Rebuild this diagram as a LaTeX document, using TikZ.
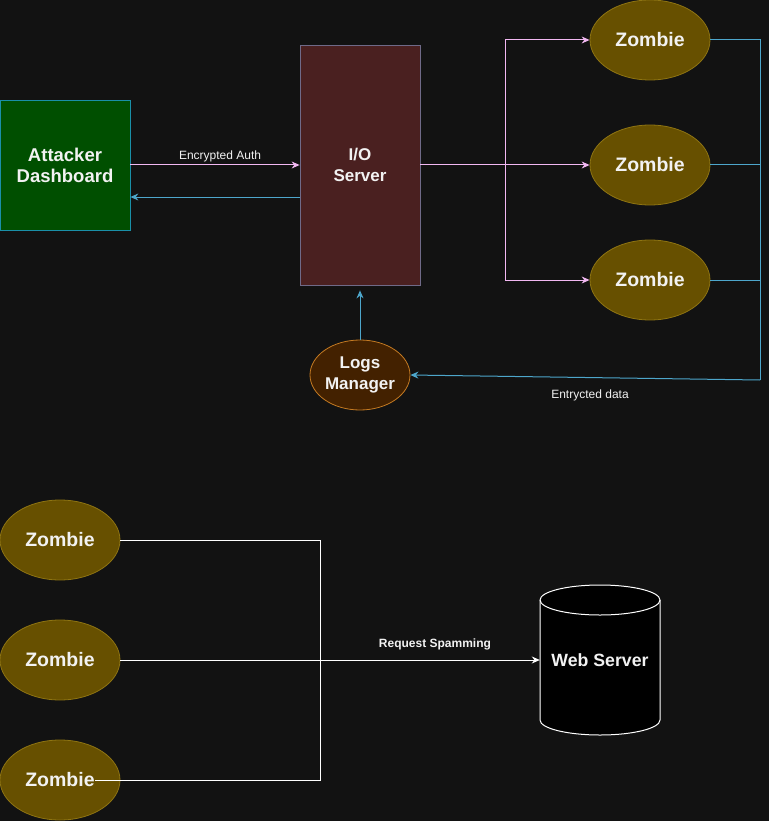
\documentclass[tikz,border=0pt]{standalone}
\usepackage{fontspec}
\setmainfont{Liberation Sans}
\usetikzlibrary{arrows.meta,shapes.geometric}
\definecolor{bg}{HTML}{121212}
\definecolor{adfill}{HTML}{004F00}
\definecolor{adline}{HTML}{1A8FA8}
\definecolor{iofill}{HTML}{4A2020}
\definecolor{ioline}{HTML}{6F6A88}
\definecolor{zfill}{HTML}{675000}
\definecolor{zline}{HTML}{8E7412}
\definecolor{lmfill}{HTML}{432100}
\definecolor{lmline}{HTML}{C47A22}
\definecolor{pinkc}{HTML}{F2B8F2}
\definecolor{bluec}{HTML}{4DA6CB}
\definecolor{txt}{HTML}{F2F2F2}
\tikzset{
  zombie/.style={ellipse, draw=zline, fill=zfill, line width=0.8pt, minimum width=120pt, minimum height=80pt, inner sep=0pt, text=txt, font=\fontsize{19.5}{23}\selectfont\bfseries},
  pinkarrow/.style={draw=pinkc, line width=1pt, -{Stealth[length=8pt,width=7pt]}},
  bluearrow/.style={draw=bluec, line width=1pt, -{Stealth[length=8pt,width=7pt]}},
  blueline/.style={draw=bluec, line width=1pt},
  whiteline/.style={draw=white, line width=1pt},
  lbl/.style={text=txt, font=\fontsize{12}{14}\selectfont, inner sep=0pt},
}
\begin{document}
\begin{tikzpicture}[x=1pt,y=-1pt]
\fill[bg] (0,0) rectangle (769,821);
\useasboundingbox (0,0) rectangle (769,821);

% nodes
\node[draw=adline, fill=adfill, line width=0.8pt, minimum width=130pt, minimum height=130pt, inner sep=0pt, text=txt, align=center, font=\fontsize{18.5}{22.5}\selectfont\bfseries] (ad) at (65,165) {\raisebox{-1.5pt}{Attacker}\\Dashboard};
\node[draw=ioline, fill=iofill, line width=0.8pt, minimum width=120pt, minimum height=240pt, inner sep=0pt, text=txt, align=center, font=\fontsize{17}{20.5}\selectfont\bfseries] (io) at (360,165) {I/O\\Server};
\node[zombie] (z1) at (650,40) {\raisebox{-1.5pt}{Zombie}};
\node[zombie] (z2) at (650,165) {\raisebox{-1.5pt}{Zombie}};
\node[zombie] (z3) at (650,280) {\raisebox{-1.5pt}{Zombie}};
\node[ellipse, draw=lmline, fill=lmfill, line width=0.8pt, minimum width=100pt, minimum height=70pt, inner sep=0pt, text=txt, align=center, font=\fontsize{17}{21}\selectfont\bfseries] (lm) at (360,375) {Logs\\Manager};

\node[zombie] (b1) at (60,540) {\raisebox{-1.5pt}{Zombie}};
\node[zombie] (b2) at (60,660) {\raisebox{-1.5pt}{Zombie}};
\node[zombie] (b3) at (60,780) {\raisebox{-1.5pt}{Zombie}};

% cylinder
\filldraw[draw=white, fill=black, line width=1pt] (540,600) -- (540,720) arc[start angle=180, end angle=360, x radius=60, y radius=-15] -- (660,600) arc[start angle=0, end angle=180, x radius=60, y radius=-15] -- cycle;
\draw[white, line width=1pt] (540,600) arc[start angle=180, end angle=360, x radius=60, y radius=-15];
\node[inner sep=0pt, minimum width=120pt, minimum height=120pt, text=txt, font=\fontsize{17.7}{21}\selectfont\bfseries] (ws) at (600,660) {Web Server};

% coordinates
\coordinate (br) at (505,165);
\coordinate (rc) at (760,380);
\coordinate (bj) at (320,780);

% connectors
\draw[pinkarrow] (ad.east) -- node[lbl, above=3pt, pos=0.53] (lea) {Encrypted Auth} (io.west);
\draw[bluearrow] ([yshift=-32pt]io.west) -- ([yshift=-32pt]ad.east);
\draw[pinkarrow] (io.east) -- (z2.west);
\draw[pinkarrow] (br) |- (z1.west);
\draw[pinkarrow] (br) |- (z3.west);

\draw[blueline] (z1.east) -- (z1.east -| rc) -- (rc);
\draw[blueline] (z2.east) -- (z2.east -| rc);
\draw[blueline] (z3.east) -- (z3.east -| rc);
\draw[bluearrow] (rc) -- (lm.east);
\node[lbl] (led) at (590,395) {Entrycted data};
\draw[bluearrow] (lm.north) -- ([yshift=-5pt]io.south);

\draw[whiteline] (b1.east) -| (bj) -- ([xshift=35pt]b3.center);
\draw[whiteline, -{Stealth[length=8pt,width=7pt]}] (b2.east) -- node[pos=0.75, above=9pt, inner sep=0pt, text=txt, font=\fontsize{12}{14}\selectfont\bfseries] (lrs) {Request Spamming} (ws.west);
\end{tikzpicture}
\end{document}
